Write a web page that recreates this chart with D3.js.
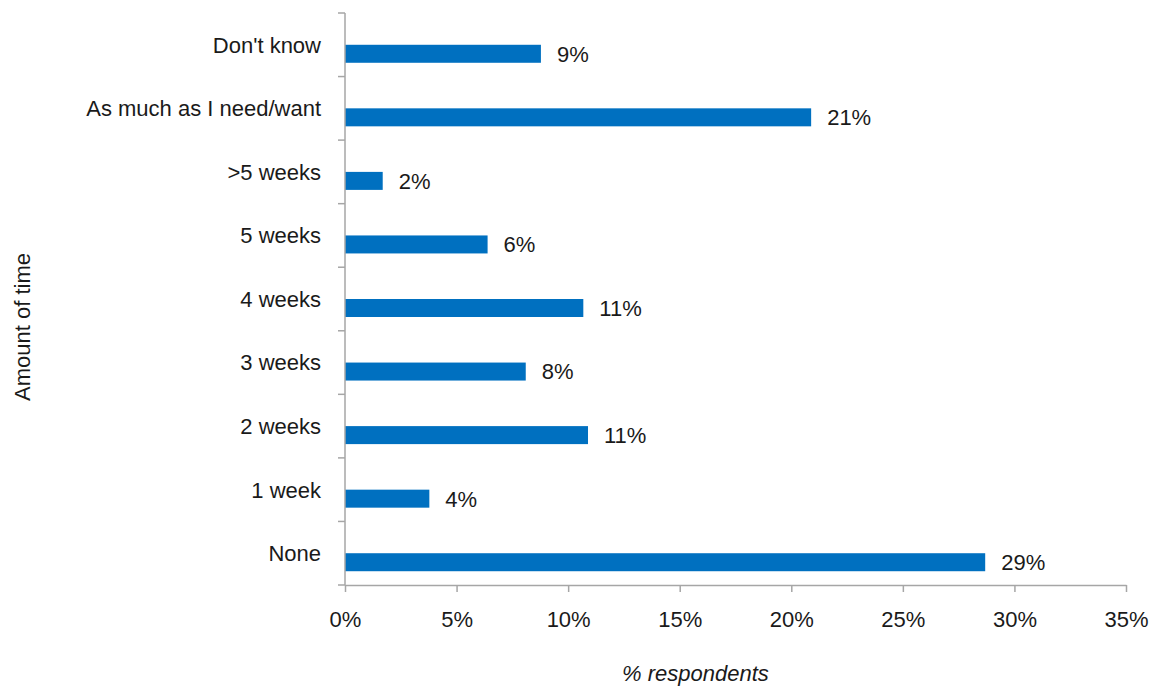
<!DOCTYPE html>
<html>
<head>
<meta charset="utf-8">
<script src="https://cdn.jsdelivr.net/npm/d3@7"></script>
<style>
  body { margin: 0; background: #fff; }
  svg { display: block; }
  text { font-family: "Liberation Sans Narrow", "Arial Narrow", "Liberation Sans", sans-serif; fill: #1a1a1a; }
</style>
</head>
<body>
<svg id="chart" width="1153" height="688"></svg>
<script>
const categories = ["Don't know", "As much as I need/want", ">5 weeks", "5 weeks", "4 weeks", "3 weeks", "2 weeks", "1 week", "None"];
const values = [8.78, 20.89, 1.69, 6.39, 10.68, 8.1, 10.89, 3.78, 28.69];
const xTicks = [0, 5, 10, 15, 20, 25, 30, 35];
const xTitle = "% respondents";
const yTitle = "Amount of time";

const svg = d3.select("#chart");
const mLeft = 345, mRight = 1126, mTop = 13, mBottom = 585;
const axisColor = "#a6a6a6";
const fontSize = 22;

const x = d3.scaleLinear().domain([0, 35]).range([mLeft, mRight]);
const y = d3.scaleBand().domain(categories).range([mTop, mBottom]).padding(0);

// Bars: occupy from band centre down ~18px
const barH = 18;
svg.append("g").selectAll("rect").data(values).join("rect")
  .attr("x", x(0))
  .attr("y", (d, i) => y(categories[i]) + y.bandwidth() / 2)
  .attr("width", d => x(d) - x(0))
  .attr("height", barH)
  .attr("fill", "#0070C0");

// Value labels
svg.append("g").selectAll("text").data(values).join("text")
  .attr("x", d => x(d) + 16)
  .attr("y", (d, i) => y(categories[i]) + y.bandwidth() / 2 + barH / 2)
  .attr("dy", "0.36em")
  .attr("font-size", fontSize)
  .text(d => Math.round(d) + "%");

// X axis
const xAxis = d3.axisBottom(x).tickValues(xTicks).tickFormat(d => d + "%").tickSize(7).tickSizeOuter(0);
const gx = svg.append("g").attr("transform", `translate(0,${mBottom})`).call(xAxis);
gx.select(".domain").attr("stroke", axisColor).attr("stroke-width", 1.5);
gx.selectAll(".tick line").attr("stroke", axisColor).attr("stroke-width", 1.5);
gx.selectAll(".tick text").attr("font-size", fontSize).attr("dy", "0").attr("y", 42)
  .style("font-family", '"Liberation Sans Narrow", "Arial Narrow", sans-serif').attr("fill", "#1a1a1a");

// Y axis: line + ticks at band boundaries
const gy = svg.append("g");
gy.append("line").attr("x1", mLeft).attr("x2", mLeft).attr("y1", mTop).attr("y2", mBottom)
  .attr("stroke", axisColor).attr("stroke-width", 1.5);
const boundaries = categories.map(c => y(c)).concat([mBottom]);
gy.selectAll("line.tk").data(boundaries).join("line").attr("class", "tk")
  .attr("x1", mLeft - 7).attr("x2", mLeft).attr("y1", d => d).attr("y2", d => d)
  .attr("stroke", axisColor).attr("stroke-width", 1.5);

// Category labels
svg.append("g").selectAll("text").data(categories).join("text")
  .attr("x", 321)
  .attr("y", d => y(d) + y.bandwidth() / 2)
  .attr("dy", "0.36em")
  .attr("text-anchor", "end")
  .attr("font-size", fontSize)
  .text(d => d);

// Axis titles
svg.append("text").attr("x", (mLeft + mRight) / 2 - 40).attr("y", 681)
  .attr("text-anchor", "middle").attr("font-size", fontSize).attr("font-style", "italic")
  .text(xTitle);
svg.append("text").attr("transform", `translate(30,${(mTop + mBottom) / 2 + 28}) rotate(-90)`)
  .attr("text-anchor", "middle").attr("font-size", fontSize)
  .text(yTitle);
</script>
</body>
</html>
